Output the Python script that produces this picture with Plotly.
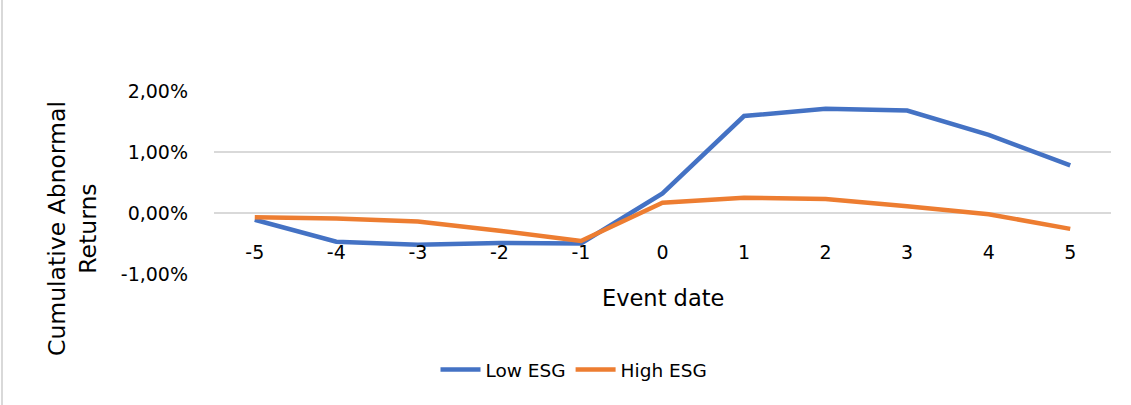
import plotly.graph_objects as go

event_days = [-5, -4, -3, -2, -1, 0, 1, 2, 3, 4, 5]
low_esg = [-0.11, -0.47, -0.52, -0.49, -0.50, 0.32, 1.59, 1.71, 1.68, 1.28, 0.78]
high_esg = [-0.07, -0.09, -0.14, -0.29, -0.46, 0.17, 0.25, 0.23, 0.11, -0.02, -0.26]
y_ticks = [-1, 0, 1, 2]
y_tick_labels = ["-1,00%", "0,00%", "1,00%", "2,00%"]

W, H = 1131, 405
ML, MR, MT, MB = 214, 20, 91, 131
PH = H - MT - MB
PW = W - ML - MR
FONT = "'DejaVu Sans', sans-serif"

fig = go.Figure()
fig.add_trace(go.Scatter(x=event_days, y=low_esg, mode="lines", name="Low ESG",
                         line=dict(color="#4472C4", width=4.5)))
fig.add_trace(go.Scatter(x=event_days, y=high_esg, mode="lines", name="High ESG",
                         line=dict(color="#ED7D31", width=4.5)))

fig.update_layout(
    width=W, height=H,
    margin=dict(l=ML, r=MR, t=MT, b=MB, autoexpand=False),
    paper_bgcolor="white", plot_bgcolor="white",
    font=dict(family=FONT, color="#000000", size=18),
    showlegend=True,
    legend=dict(orientation="h", x=(574 - ML) / PW, xanchor="center",
                y=-(370 - (MT + PH)) / PH, yanchor="middle",
                font=dict(size=18.5), itemwidth=40),
    xaxis=dict(range=[-5.5, 5.5], tickmode="array", tickvals=event_days,
               ticktext=[str(d) for d in event_days], showgrid=False, zeroline=False,
               showline=False, anchor="free", position=1/3, ticks="",
               ticklabelstandoff=26, tickfont=dict(size=19)),
    yaxis=dict(range=[-1, 2], tickvals=y_ticks, ticktext=y_tick_labels,
               showgrid=True, gridcolor="#D9D9D9", gridwidth=1.5, zeroline=False,
               showline=False, ticks="", ticklabelstandoff=25, tickfont=dict(size=19)),
    annotations=[
        dict(text="Event date", xref="paper", yref="paper", x=0.5,
             y=-(298 - (MT + PH)) / PH,
             xanchor="center", yanchor="middle", showarrow=False, font=dict(size=22.5)),
        dict(text="Cumulative Abnormal<br>Returns", xref="paper", yref="paper",
             x=(72 - ML) / PW, y=-(229 - (MT + PH)) / PH, xanchor="center", yanchor="middle",
             textangle=-90, showarrow=False, font=dict(size=23.5)),
    ],
    shapes=[dict(type="line", xref="paper", yref="paper",
                 x0=(2 - ML) / PW, x1=(2 - ML) / PW, y0=-MB / PH,
                 y1=1 + MT / PH, line=dict(color="#D9D9D9", width=2))],
)

fig.write_html("out.html", config={"displayModeBar": False},
               post_script="document.body.style.margin='0px';")
